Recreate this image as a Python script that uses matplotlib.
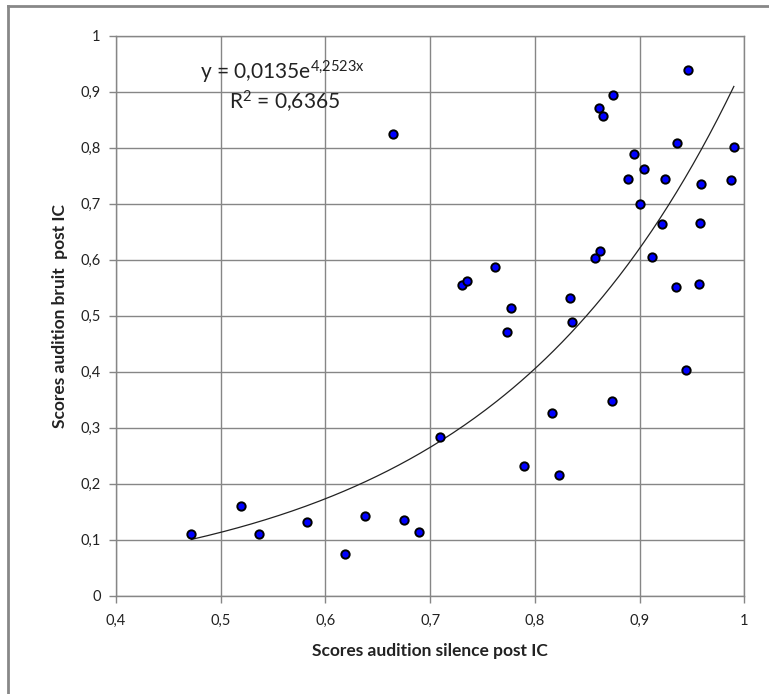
import numpy as np
import matplotlib
matplotlib.use("Agg")
import matplotlib.pyplot as plt
from matplotlib.lines import Line2D

plt.rcParams['font.family'] = ['Lato', 'DejaVu Sans']

# scores (silence, bruit) post IC
silence = [0.472, 0.519, 0.537, 0.582, 0.619, 0.638, 0.675, 0.689, 0.665, 0.709,
           0.730, 0.735, 0.762, 0.777, 0.773, 0.790, 0.816, 0.823, 0.834, 0.835,
           0.857, 0.862, 0.861, 0.865, 0.875, 0.874, 0.889, 0.895, 0.900, 0.904,
           0.912, 0.921, 0.924, 0.936, 0.935, 0.946, 0.944, 0.957, 0.958, 0.959,
           0.987, 0.990]
bruit = [0.111, 0.161, 0.111, 0.131, 0.074, 0.142, 0.136, 0.113, 0.824, 0.283,
         0.554, 0.561, 0.586, 0.513, 0.470, 0.232, 0.326, 0.216, 0.532, 0.488,
         0.602, 0.616, 0.870, 0.856, 0.893, 0.347, 0.744, 0.788, 0.699, 0.762,
         0.605, 0.664, 0.744, 0.808, 0.552, 0.938, 0.403, 0.556, 0.666, 0.735,
         0.742, 0.801]

# exponential trendline y = a * exp(b x)
a, b = 0.0135, 4.2523
r2 = 0.6365

fig = plt.figure(figsize=(7.69, 6.94), dpi=100)
ax = fig.add_axes([0.1508, 0.1416, 0.9679 - 0.1508, 0.9488 - 0.1416])

xs = np.linspace(min(silence), max(silence), 200)
ax.plot(xs, a * np.exp(b * xs), color="#222222", lw=0.9, zorder=2)
ax.plot(silence, bruit, "o", ms=6, mfc="#0000ff", mec="black", mew=1.4,
        ls="none", zorder=3, clip_on=False)

ax.set_xlim(0.4, 1)
ax.set_ylim(0, 1)
xt = np.arange(0.4, 1.0001, 0.1)
yt = np.arange(0, 1.0001, 0.1)
ax.set_xticks(xt)
ax.set_yticks(yt)
ax.set_xticklabels([("%.1f" % v).replace(".", ",") if abs(v - 1) > 1e-6 else "1" for v in xt])
ax.set_yticklabels(["0" if i == 0 else ("1" if i == 10 else ("%.1f" % v).replace(".", ","))
                    for i, v in enumerate(yt)])
ax.tick_params(axis="both", labelsize=10.5, colors="#868686", length=5, width=1,
               labelcolor="#222222")
ax.tick_params(axis="x", pad=8)
ax.tick_params(axis="y", pad=6)
ax.grid(True, color="#868686", lw=1)
ax.set_axisbelow(True)
for s in ax.spines.values():
    s.set_color("#868686")
    s.set_linewidth(1)

ax.set_xlabel("Scores audition silence post IC", fontsize=12.5, fontweight="bold",
              color="#222222", labelpad=11)
ax.set_ylabel("Scores audition bruit  post IC", fontsize=12.5, fontweight="bold",
              color="#222222", labelpad=9)

ax.text(0.480, 0.935, "y = 0,0135e$\\mathregular{^{4{,}2523x}}$", fontsize=15,
        color="#222222", va="center", ha="left")
ax.text(0.508, 0.881, "R$\\mathregular{^{2}}$ = 0,6365", fontsize=15, color="#222222",
        va="center", ha="left")

# outer chart frame (top and left edges visible)
fig.add_artist(Line2D([8 / 769, 8 / 769], [0, 1 - 6 / 694], transform=fig.transFigure,
                      color="#888888", lw=2))
fig.add_artist(Line2D([8 / 769, 1], [1 - 6 / 694, 1 - 6 / 694], transform=fig.transFigure,
                      color="#888888", lw=2))

fig.savefig("out.png", dpi=100)
